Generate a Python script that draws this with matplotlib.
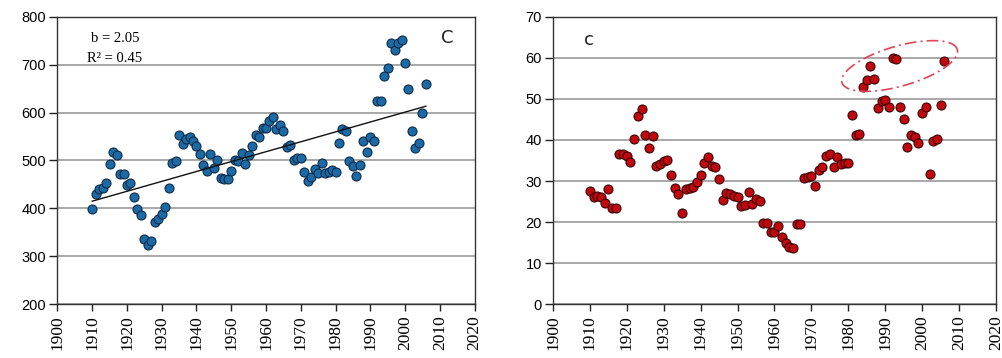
import numpy as np
import matplotlib
matplotlib.use('Agg')
import matplotlib.pyplot as plt

# left panel (blue), one value per year 1910..2006
years = np.arange(1910, 2007)
left_vals = [399, 430, 440, 442, 453, 492, 518, 511, 472, 472,
             448, 454, 423, 399, 386, 336, 324, 333, 372, 377,
             388, 402, 442, 495, 499, 553, 534, 544, 548, 541,
             530, 514, 491, 479, 514, 485, 501, 464, 461, 461,
             478, 501, 499, 515, 493, 511, 531, 553, 550, 567,
             567, 583, 591, 566, 573, 561, 529, 532, 500, 506,
             505, 477, 457, 466, 482, 473, 494, 473, 477, 480,
             475, 537, 566, 561, 498, 489, 468, 491, 541, 518,
             548, 541, 625, 625, 676, 692, 746, 730, 746, 751,
             703, 650, 561, 527, 536, 600, 659]

# right panel (red)
right_vals = [27.6, 26.0, 26.4, 26.2, 24.7, 28.0, 23.4, 23.4, 36.6, 36.6,
              36.2, 34.6, 40.2, 45.8, 47.5, 41.2, 38.1, 41.0, 33.7, 34.1,
              34.9, 35.1, 31.5, 28.4, 26.9, 22.3, 28.0, 28.4, 28.5, 29.7,
              31.5, 34.3, 35.9, 33.7, 33.5, 30.5, 25.4, 27.2, 26.8, 26.4,
              26.2, 24.0, 24.2, 27.3, 24.4, 25.6, 25.2, 19.7, 19.7, 17.7,
              17.5, 19.1, 16.5, 14.8, 14.0, 13.6, 19.6, 19.6, 30.8, 31.1,
              31.3, 28.9, 32.7, 33.3, 36.1, 36.6, 33.3, 35.9, 34.1, 34.3,
              34.3, 46.1, 41.2, 41.5, 52.8, 54.6, 58.1, 54.8, 47.7, 49.6,
              49.7, 48.1, 59.9, 59.6, 48.1, 45.1, 38.2, 41.2, 40.8, 39.3,
              46.5, 47.9, 31.7, 39.7, 40.2, 48.5, 59.2]

xticks = np.arange(1900, 2021, 10)

fig = plt.figure(figsize=(10.03, 3.58), dpi=100)
ax1 = fig.add_axes([0.0573, 0.150, 0.4158, 0.8034])
ax2 = fig.add_axes([0.5513, 0.150, 0.4417, 0.8034])


def style(ax, ylim, ystep):
    ax.set_xlim(1900, 2020)
    ax.set_ylim(*ylim)
    ax.set_xticks(xticks)
    ax.set_xticklabels([str(t) for t in xticks], rotation=90,
                       family='Liberation Serif', fontsize=12.5)
    yt = np.arange(ylim[0], ylim[1] + 1, ystep)
    ax.set_yticks(yt)
    ax.set_yticklabels([str(t) for t in yt], family='Liberation Sans', fontsize=10.5)
    ax.tick_params(axis='both', direction='out', length=5, width=1, color='#222222')
    ax.tick_params(axis='x', pad=3)
    ax.tick_params(axis='y', pad=2, length=6)
    for s in ax.spines.values():
        s.set_color('#333333')
        s.set_linewidth(1.0)
    ax.yaxis.grid(True, color='#9a9a9a', linewidth=1.2)
    ax.set_axisbelow(True)


style(ax1, (200, 800), 100)
style(ax2, (0, 70), 10)

ax1.scatter(years, left_vals, s=42, color='#1b6aa5', edgecolor='#0c2b48',
            linewidth=0.8, zorder=3)
b, a = np.polyfit(years, left_vals, 1)
ax1.plot(years, a + b * years, color='#111111', linewidth=1.0, zorder=4)
ax1.text(0.138, 0.925, 'b = 2.05', transform=ax1.transAxes, ha='center',
         va='center', family='Liberation Serif', fontsize=10.5)
ax1.text(0.138, 0.855, 'R² = 0.45', transform=ax1.transAxes, ha='center',
         va='center', family='Liberation Serif', fontsize=10.5)
ax1.text(0.935, 0.925, 'C', transform=ax1.transAxes, ha='center', va='center',
         family='DejaVu Sans', fontsize=13, color='#222222')

ax2.scatter(years, right_vals, s=42, color='#c0080e', edgecolor='#3a0000',
            linewidth=0.8, zorder=3)
ax2.text(0.082, 0.92, 'c', transform=ax2.transAxes, ha='center', va='center',
         family='DejaVu Sans', fontsize=13, color='#222222')

# dash-dot ellipse around the recent high values, drawn in pixel space
cx, cy = ax2.transData.transform((1993.9, 58.0))
t = np.linspace(0, 2 * np.pi, 300)
th = np.deg2rad(16)
ea, eb = 60, 20
px = cx + ea * np.cos(t) * np.cos(th) - eb * np.sin(t) * np.sin(th)
py = cy + ea * np.cos(t) * np.sin(th) + eb * np.sin(t) * np.cos(th)
pts = ax2.transData.inverted().transform(np.column_stack([px, py]))
ax2.plot(pts[:, 0], pts[:, 1], color='#e04555', linewidth=1.2,
         linestyle=(0, (7, 2.5, 1.2, 2.5)), zorder=5)

fig.savefig('out.png', dpi=100)
